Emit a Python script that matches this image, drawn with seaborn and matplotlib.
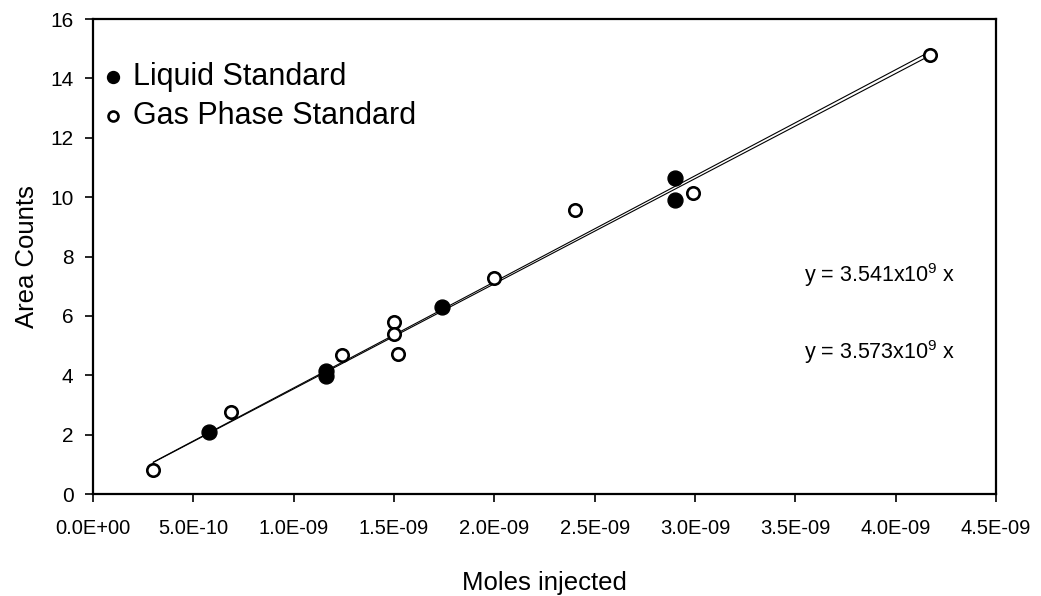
import numpy as np
import pandas as pd
import matplotlib
matplotlib.use('Agg')
import matplotlib.pyplot as plt
from matplotlib.ticker import FuncFormatter
import seaborn as sns

# ===============================
# Datos
# ===============================
liquid_x = [5.8e-10, 1.16e-9, 1.16e-9, 1.74e-9, 2.90e-9, 2.90e-9]
liquid_y = [2.1, 4.15, 3.97, 6.3, 10.65, 9.92]

gas_x = [3.0e-10, 6.9e-10, 1.24e-9, 1.50e-9, 1.50e-9, 1.52e-9, 2.0e-9, 2.4e-9, 2.99e-9, 4.17e-9]
gas_y = [0.8, 2.75, 4.68, 5.78, 5.38, 4.72, 7.28, 9.58, 10.15, 14.8]

slopes = [3.541e9, 3.573e9]
eq_labels = ['y = 3.541x10$^{9}$ x', 'y = 3.573x10$^{9}$ x']
eq_pos_y = [7.38, 4.78]

x_ticks = [0, 5e-10, 1e-9, 1.5e-9, 2e-9, 2.5e-9, 3e-9, 3.5e-9, 4e-9, 4.5e-9]
y_ticks = [0, 2, 4, 6, 8, 10, 12, 14, 16]

liquid = pd.DataFrame({'x': liquid_x, 'y': liquid_y})
gas = pd.DataFrame({'x': gas_x, 'y': gas_y})

# ===============================
# Estilo
# ===============================
sns.set_theme(style='white')
plt.rcParams['font.family'] = ['Liberation Sans', 'DejaVu Sans']
plt.rcParams['mathtext.fontset'] = 'custom'
plt.rcParams['mathtext.rm'] = 'Liberation Sans'
plt.rcParams['mathtext.it'] = 'Liberation Sans'
plt.rcParams['text.color'] = 'black'
plt.rcParams['axes.labelcolor'] = 'black'
plt.rcParams['xtick.color'] = 'black'
plt.rcParams['ytick.color'] = 'black'

fig = plt.figure(figsize=(10.41, 5.96), dpi=100)
ax = fig.add_axes([0.0893, 0.1711, 0.8675, 0.797])

# Líneas de tendencia (pasan por el origen)
xfit = np.array([min(gas_x), max(gas_x)])
for m in slopes:
    ax.plot(xfit, m * xfit, color='black', lw=0.8, zorder=1)

sns.scatterplot(data=liquid, x='x', y='y', ax=ax, s=115, color='black',
                edgecolor='black', linewidth=1, label='Liquid Standard', zorder=3)
sns.scatterplot(data=gas, x='x', y='y', ax=ax, s=80, facecolor='white',
                edgecolor='black', linewidth=1.9, label='Gas Phase Standard', zorder=3)

for lab, yy in zip(eq_labels, eq_pos_y):
    ax.text(3.545e-9, yy, lab, fontsize=15.5, ha='left', va='center')

ax.set_xlim(0, 4.5e-9)
ax.set_ylim(0, 16)
ax.set_xticks(x_ticks)
ax.set_yticks(y_ticks)
ax.xaxis.set_major_formatter(FuncFormatter(lambda v, p: f'{v:.1E}'))
ax.xaxis.get_offset_text().set_visible(False)

ax.tick_params(axis='both', direction='out', length=6, width=1.2,
               labelsize=14.5, bottom=True, left=True, pad=12)
ax.tick_params(axis='y', pad=8, labelsize=15)
for sp in ax.spines.values():
    sp.set_color('black')
    sp.set_linewidth(1.6)

ax.set_xlabel('Moles injected', fontsize=18.5, labelpad=24)
ax.set_ylabel('Area Counts', fontsize=18.5, labelpad=8)

leg = ax.legend(loc='upper left', bbox_to_anchor=(-0.025, 0.935), frameon=False,
                fontsize=22, handletextpad=-0.35, labelspacing=0.3,
                borderaxespad=0.0, markerscale=0.8)

fig.savefig('out.png', dpi=100)
